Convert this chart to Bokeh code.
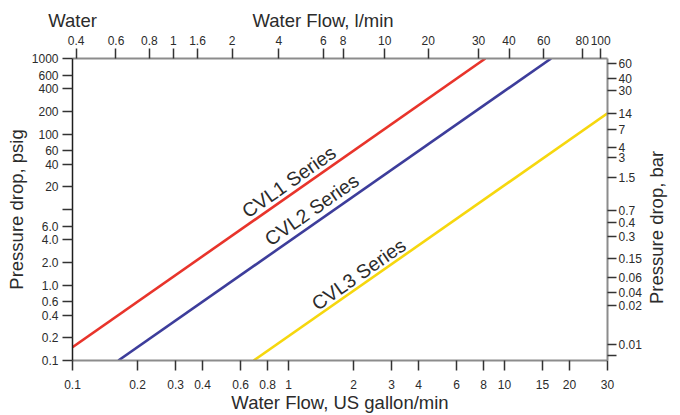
import math
from bokeh.plotting import figure
from bokeh.models import LogAxis, FixedTicker, Label, CustomJSTickFormatter, Range1d
from bokeh.embed import file_html
from bokeh.resources import INLINE

# ---------------- data ----------------
series_names = ["CVL1 Series", "CVL2 Series", "CVL3 Series"]
series_colors = ["#e8342b", "#3d3d9b", "#f6d70e"]

cvl1_flow_gpm = [0.1, 8.16]
cvl1_dp_psi = [0.150, 1000]
cvl2_flow_gpm = [0.163, 16.45]
cvl2_dp_psi = [0.1, 1000]
cvl3_flow_gpm = [0.69, 30]
cvl3_dp_psi = [0.1, 188]

# where the series names sit (flow gpm, pressure psi)
label_flow_gpm = [1.003, 1.28, 2.11]
label_dp_psi = [23.4, 10.0, 1.39]

# bottom axis: US gallon/min
gpm_ticks = [0.1, 0.2, 0.3, 0.4, 0.6, 0.8, 1, 2, 3, 4, 6, 8, 10, 15, 20, 30]
gpm_labels = ["0.1", "0.2", "0.3", "0.4", "0.6", "0.8", "1", "2", "3", "4",
              "6", "8", "10", "15", "20", "30"]
# left axis: psig
psi_ticks = [0.1, 0.2, 0.4, 0.6, 1, 2, 4, 6, 10, 20, 40, 60, 100, 200, 400, 600, 1000]
psi_labels = ["0.1", "0.2", "0.4", "0.6", "1.0", "2.0", "4.0", "6.0", "", "20",
              "40", "60", "100", "200", "400", "600", "1000"]
# top axis: l/min labels and where they sit on the gallon scale
lpm_labels = ["0.4", "0.6", "0.8", "1", "1.6", "2", "4", "6", "8", "10",
              "20", "30", "40", "60", "80", "100"]
lpm_at_gpm = [0.104, 0.159, 0.227, 0.293, 0.379, 0.548, 0.902, 1.45, 1.79, 2.79,
              4.44, 7.59, 10.5, 15.2, 22.9, 27.9]
# right axis: bar labels and where they sit on the psig scale
bar_labels = ["60", "40", "30", "14", "7", "4", "3", "1.5", "0.7", "0.4", "0.3",
              "0.15", "0.06", "0.04", "0.02", "0.01", ""]
bar_at_psi = [859, 545, 382, 188, 116, 66.3, 48.1, 26.2, 9.61, 6.80, 4.37,
              2.24, 1.24, 0.798, 0.531, 0.161, 0.116]

# headings above the top axis and where they are centred on the gallon scale
top_titles = ["Water", "Water Flow, l/min"]
top_titles_at_gpm = [0.1, 1.446]

# right-hand heading and the psig level where it starts
right_titles = ["Pressure drop, bar"]
right_titles_at_psi = [0.56]

x_title_bottom = "Water Flow, US gallon/min"
y_title_left = "Pressure drop, psig"

# ---------------- styling ----------------
FONT = "Liberation Sans"
TXT = "#2b2b2b"
GRAY = "#8c8c8c"
TICK = "#333333"
TITLE_SIZE = "18.5px"


def fmt(tv, tl):
    return CustomJSTickFormatter(args=dict(tv=tv, tl=tl), code="""
        for (let i = 0; i < tv.length; i++) {
            if (Math.abs(tv[i] - tick) <= 1e-6 * Math.abs(tv[i])) return tl[i];
        }
        return "";
    """)


def style(ax, line_color, line_width, tick_out, standoff):
    ax.axis_line_color = line_color
    ax.axis_line_width = line_width
    ax.major_tick_line_color = TICK
    ax.major_tick_line_width = 1.5
    ax.major_tick_out = tick_out
    ax.major_tick_in = 0
    ax.minor_tick_line_color = None
    ax.minor_tick_out = 0
    ax.minor_tick_in = 0
    ax.major_label_standoff = standoff
    ax.major_label_text_font = FONT
    ax.major_label_text_font_size = "12px"
    ax.major_label_text_color = TXT


def axis_title(ax, text, standoff):
    ax.axis_label = text
    ax.axis_label_standoff = standoff
    ax.axis_label_text_font = FONT
    ax.axis_label_text_font_size = TITLE_SIZE
    ax.axis_label_text_font_style = "normal"
    ax.axis_label_text_color = TXT


p = figure(width=680, height=415, x_axis_type="log", y_axis_type="log",
           x_range=Range1d(0.1, 30), y_range=Range1d(0.1, 1000),
           title=None, output_backend="svg", toolbar_location=None,
           min_border_left=72, min_border_right=70,
           min_border_top=58, min_border_bottom=53)
p.outline_line_color = None
p.xgrid.visible = False
p.ygrid.visible = False
p.background_fill_color = "white"
p.border_fill_color = "white"

bx = p.xaxis[0]
bx.ticker = FixedTicker(ticks=gpm_ticks, minor_ticks=[])
bx.formatter = fmt(gpm_ticks, gpm_labels)
style(bx, GRAY, 2, 10, 9)
axis_title(bx, x_title_bottom, 0)

ly = p.yaxis[0]
ly.ticker = FixedTicker(ticks=psi_ticks, minor_ticks=[])
ly.formatter = fmt(psi_ticks, psi_labels)
style(ly, "#1e1e1e", 1.5, 10, 4)
axis_title(ly, y_title_left, 2)

tx = LogAxis(ticker=FixedTicker(ticks=lpm_at_gpm, minor_ticks=[]),
             formatter=fmt(lpm_at_gpm, lpm_labels))
style(tx, GRAY, 2, 10, 4)
p.add_layout(tx, "above")

# headings row above the l/min axis
hx = LogAxis(ticker=FixedTicker(ticks=top_titles_at_gpm, minor_ticks=[]),
             formatter=fmt(top_titles_at_gpm, top_titles))
style(hx, None, 0, 0, 2)
hx.major_tick_line_color = None
hx.major_label_text_font_size = TITLE_SIZE
p.add_layout(hx, "above")

ry = LogAxis(ticker=FixedTicker(ticks=bar_at_psi, minor_ticks=[]),
             formatter=fmt(bar_at_psi, bar_labels))
style(ry, GRAY, 2, 9, 2)
p.add_layout(ry, "right")

# right heading, reading bottom-to-top like the left one
rh = LogAxis(ticker=FixedTicker(ticks=right_titles_at_psi, minor_ticks=[]),
             formatter=fmt(right_titles_at_psi, right_titles))
style(rh, None, 0, 0, 12)
rh.major_tick_line_color = None
rh.major_label_text_font_size = TITLE_SIZE
rh.major_label_orientation = math.pi / 2
p.add_layout(rh, "right")

flows = [cvl1_flow_gpm, cvl2_flow_gpm, cvl3_flow_gpm]
dps = [cvl1_dp_psi, cvl2_dp_psi, cvl3_dp_psi]
for f, d, c in zip(flows, dps, series_colors):
    p.line(f, d, line_color=c, line_width=2.6)

for name, gx, py in zip(series_names, label_flow_gpm, label_dp_psi):
    p.add_layout(Label(x=gx, y=py, text=name, angle=35, angle_units="deg",
                       text_align="center", text_baseline="middle",
                       text_font=FONT, text_font_size="19.5px", text_color=TXT))

open("out.html", "w").write(file_html(p, INLINE))
